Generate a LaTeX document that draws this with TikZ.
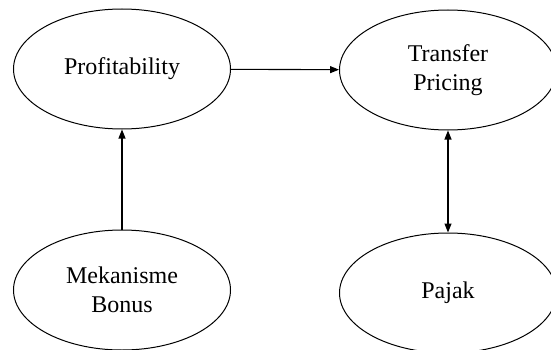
\documentclass[tikz,border=0pt]{standalone}
\usepackage{fontspec}
\setmainfont{Liberation Serif}
\usetikzlibrary{shapes.geometric,arrows.meta}

\tikzset{
  varnode/.style={draw, line width=1pt, ellipse, inner sep=0pt,
    minimum width=217pt, minimum height=120pt, align=center,
    font=\fontsize{24}{29}\selectfont},
  link/.style={line width=1.1pt, -{Triangle[length=9pt,width=7pt]}},
  twolink/.style={line width=1.1pt,
    {Triangle[length=9pt,width=7pt]}-{Triangle[length=9pt,width=7pt]}}
}

\begin{document}
\begin{tikzpicture}[x=1pt, y=1pt]
      \useasboundingbox (0,0) rectangle (551,349);
      \node[varnode] (profit) at (122,280) {Profitability};
      \node[varnode] (transfer) at (448,279) {Transfer\\Pricing};
      \node[varnode] (bonus) at (122,59) {Mekanisme\\Bonus};
      \node[varnode] (pajak) at (448,56) {Pajak};
      \draw[link] (profit) -- (transfer);
      \draw[link] (bonus) -- (profit);
      \draw[twolink] (transfer) -- (pajak);
    \end{tikzpicture}
\end{document}
